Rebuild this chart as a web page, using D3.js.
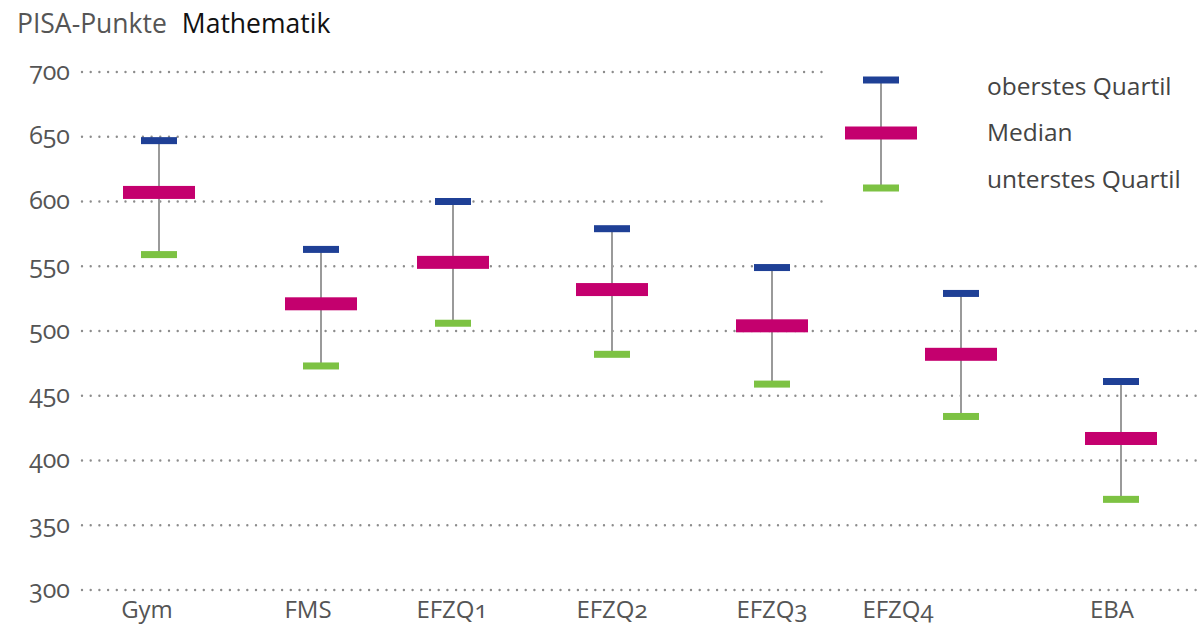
<!DOCTYPE html>
<html>
<head>
<meta charset="utf-8">
<script src="https://cdn.jsdelivr.net/npm/d3@7"></script>
<style>
    body { margin: 0; background: #fff; }
    svg text { font-family: "Open Sans", "Noto Sans", sans-serif; font-variant-numeric: oldstyle-nums; }
</style>
</head>
<body>
<svg id="chart" width="1198" height="627"></svg>
<script>
// Chart data
const categories = ["Gym", "FMS", "EFZQ1", "EFZQ2", "EFZQ3", "EFZQ4", "EBA"];
const upperQuartile = [647, 563, 600, 579, 549, 529, 461];
const median = [607, 521, 553, 532, 504, 482, 417];
const lowerQuartile = [559, 473, 506, 482, 459, 434, 370];
const yTicks = [300, 350, 400, 450, 500, 550, 600, 650, 700];
const legendLabels = ["oberstes Quartil", "Median", "unterstes Quartil"];

const colors = { upper: "#1f4096", median: "#c4006e", lower: "#7dc243", whisker: "#9a9a9a", grid: "#8c8c8c" };

const svg = d3.select("#chart");

const y = d3.scaleLinear().domain([300, 700]).range([590, 72]);

// columns are not evenly spaced in the original
const xMarker = d3.scaleOrdinal().domain(categories).range([159, 321, 453, 612, 772, 961, 1121]);
const xLabel = d3.scaleOrdinal().domain(categories).range([147, 308, 452, 612, 772, 898, 1112]);

/**
 * Draws one marker: whisker plus the two quartile ticks and the median bar.
 */
function drawMarker(g, cx, yUp, yMed, yLow) {
    g.append("line")
        .attr("x1", cx).attr("x2", cx)
        .attr("y1", yUp).attr("y2", yLow)
        .attr("stroke", colors.whisker)
        .attr("stroke-width", 2);
    g.append("rect")
        .attr("x", cx - 18).attr("y", yUp - 3.5)
        .attr("width", 36).attr("height", 7)
        .attr("fill", colors.upper);
    g.append("rect")
        .attr("x", cx - 18).attr("y", yLow - 3.5)
        .attr("width", 36).attr("height", 7)
        .attr("fill", colors.lower);
    g.append("rect")
        .attr("x", cx - 36).attr("y", yMed - 6.5)
        .attr("width", 72).attr("height", 13)
        .attr("fill", colors.median);
}

// grid lines (upper three stop before the legend)
svg.append("g").selectAll("line")
    .data(yTicks)
    .enter().append("line")
    .attr("x1", 82)
    .attr("x2", d => d >= 600 ? 823 : 1196)
    .attr("y1", d => y(d))
    .attr("y2", d => y(d))
    .attr("stroke", colors.grid)
    .attr("stroke-width", 2.4)
    .attr("stroke-linecap", "round")
    .attr("stroke-dasharray", "0 8.7");

// y tick labels
svg.append("g").selectAll("text")
    .data(yTicks)
    .enter().append("text")
    .attr("x", 70)
    .attr("y", d => y(d))
    .attr("dy", "0.3em")
    .attr("text-anchor", "end")
    .attr("font-size", 25)
    .attr("fill", "#555")
    .text(d => d);

// category labels
svg.append("g").selectAll("text")
    .data(categories)
    .enter().append("text")
    .attr("x", d => xLabel(d))
    .attr("y", 618)
    .attr("text-anchor", "middle")
    .attr("font-size", 24)
    .attr("fill", "#555")
    .text(d => d);

// markers
const markers = svg.append("g");
categories.forEach((c, i) => {
    drawMarker(markers, xMarker(c), y(upperQuartile[i]), y(median[i]), y(lowerQuartile[i]));
});

// title
const title = svg.append("text").attr("x", 17).attr("y", 33).attr("font-size", 26.5);
title.append("tspan").attr("fill", "#555").text("PISA-Punkte");
title.append("tspan").attr("fill", "#111").attr("dx", 15).text("Mathematik");

// legend
const legend = svg.append("g");
drawMarker(legend, 881, 80, 133, 188);
legend.selectAll("text")
    .data(legendLabels)
    .enter().append("text")
    .attr("x", 987)
    .attr("y", (d, i) => [87, 133, 180][i])
    .attr("dy", "0.32em")
    .attr("font-size", 24.5)
    .attr("fill", "#444")
    .text(d => d);
</script>
</body>
</html>
